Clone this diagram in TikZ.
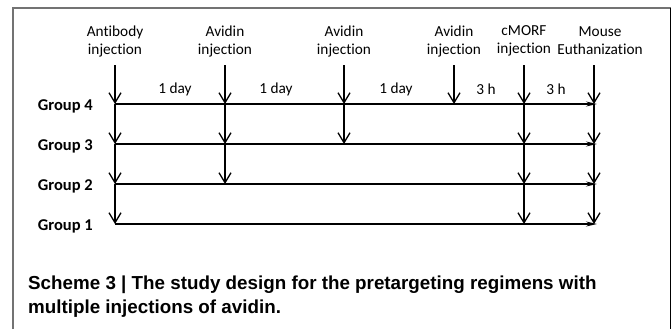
\documentclass[tikz,border=0pt]{standalone}
\usepackage{fontspec}
\setmainfont[Ligatures={NoCommon,NoContextual}]{Carlito}
\newfontfamily\capfont{Liberation Sans}
\usetikzlibrary{arrows.meta}

\tikzset{
  lbl/.style={align=center, inner sep=0pt, font=\fontsize{15.3}{18}\selectfont},
  gap/.style={inner sep=0pt, font=\fontsize{15.3}{18}\selectfont},
  grp/.style={inner sep=0pt, anchor=east, font=\bfseries\fontsize{16.5}{20}\selectfont},
  captext/.style={inner sep=0pt, anchor=north west, align=left, font=\capfont\bfseries\fontsize{18.8}{24}\selectfont},
  drop/.style={line width=1.4pt, -{Straight Barb[length=10pt,width=12pt,line width=1.3pt]}},
  track/.style={line width=1.4pt, -{Stealth[length=11pt,width=5pt]}},
  frame/.style={line width=2pt, black!55},
}

\begin{document}
\begin{tikzpicture}[x=1pt,y=-1pt]
\useasboundingbox (0,0) rectangle (671,329);

% frame
\draw[frame] (13,329) -- (13,8) -- (671,8);
\draw[line width=1pt] (670,8) -- (670,329);

% injection labels
\node[lbl] (ab) at (115,41) {Antibody\\injection};
\node[lbl] (av1) at (225,41) {Avidin\\injection};
\node[lbl] (av2) at (344,41) {Avidin\\injection};
\node[lbl] (av3) at (454,41) {Avidin\\injection};
\node[lbl] (cm) at (524,41) {cMORF\\injection};
\node[lbl] (eu) at (600,41) {Mouse\\Euthanization};

% tops of the drops
\coordinate (ab0) at (115,65);
\coordinate (av10) at (225,65);
\coordinate (av20) at (344,65);
\coordinate (av30) at (454,65);
\coordinate (cm0) at (524,65);
\coordinate (eu0) at (594,65);

% groups and their time lines
\foreach \r/\y in {4/104,3/144,2/184,1/224} {
  \node[grp] (g\r) at (93,\y+2) {Group \r};
  \coordinate (s\r) at (115,\y);
  \coordinate (e\r) at (597,\y);
  \draw[track] (s\r) -- (e\r);
}

% intervals
\node[gap] (d1) at (175,89) {1 day};
\node[gap] (d2) at (276,89) {1 day};
\node[gap] (d3) at (396,89) {1 day};
\node[gap] (h1) at (486,89) {3 h};
\node[gap] (h2) at (556,89) {3 h};

% injections
\draw[drop] (ab0) -- (ab0 |- s4);
\draw[drop] (ab0 |- s4) -- (ab0 |- s3);
\draw[drop] (ab0 |- s3) -- (ab0 |- s2);
\draw[drop] (ab0 |- s2) -- (ab0 |- s1);

\draw[drop] (av10) -- (av10 |- s4);
\draw[drop] (av10 |- s4) -- (av10 |- s3);
\draw[drop] (av10 |- s3) -- (av10 |- s2);

\draw[drop] (av20) -- (av20 |- s4);
\draw[drop] (av20 |- s4) -- (av20 |- s3);

\draw[drop] (av30) -- (av30 |- s4);

\draw[drop] (cm0) -- (cm0 |- s4);
\draw[drop] (cm0 |- s4) -- (cm0 |- s3);
\draw[drop] (cm0 |- s3) -- (cm0 |- s2);
\draw[drop] (cm0 |- s2) -- (cm0 |- s1);

\draw[drop] (eu0) -- (eu0 |- s4);
\draw[drop] (eu0 |- s4) -- (eu0 |- s3);
\draw[drop] (eu0 |- s3) -- (eu0 |- s2);
\draw[drop] (eu0 |- s2) -- (eu0 |- s1);

% caption
\node[captext] (scheme) at (28,276) {Scheme 3 | The study design for the pretargeting regimens with\\multiple injections of avidin.};
\end{tikzpicture}
\end{document}
